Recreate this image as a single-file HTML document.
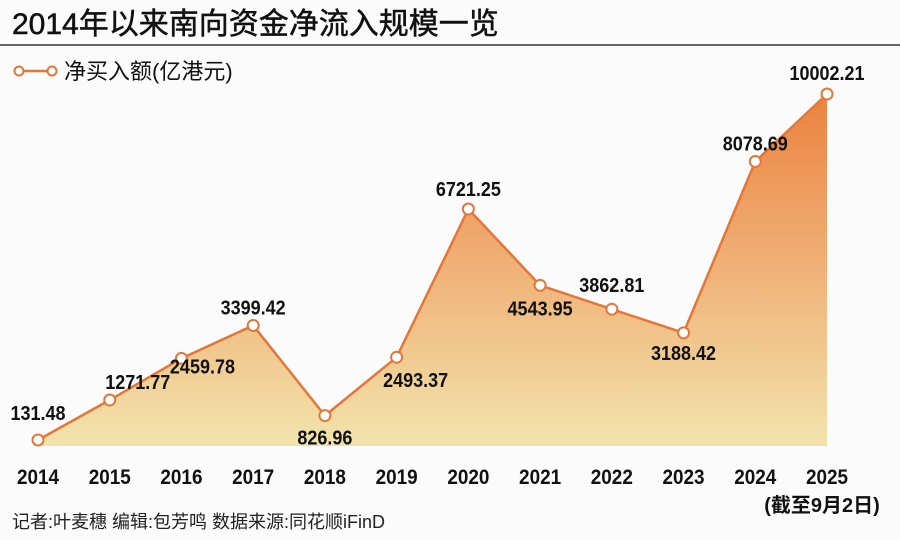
<!DOCTYPE html>
<html><head><meta charset="utf-8"><style>
body{margin:0;background:#fbfbfb;}
svg{display:block;font-family:"Liberation Sans","Noto Sans CJK SC",sans-serif;}
</style></head><body>
<svg width="900" height="540" viewBox="0 0 900 540">
<defs>
<linearGradient id="fillg" x1="0" y1="94" x2="0" y2="446" gradientUnits="userSpaceOnUse">
<stop offset="0" stop-color="#eb8240"/><stop offset="0.5" stop-color="#f0b277"/><stop offset="1" stop-color="#f2e3ad"/>
</linearGradient>
</defs>
<rect width="900" height="540" fill="#fbfbfb"/>
<text x="12" y="34" font-size="30" fill="#111" stroke="#111" stroke-width="0.5">2014年以来南向资金净流入规模一览</text>
<line x1="0" y1="45" x2="900" y2="45" stroke="#333" stroke-width="1.5"/>
<g>
<line x1="19" y1="71" x2="52" y2="71" stroke="#e3773a" stroke-width="2.5"/>
<circle cx="19" cy="71" r="4.5" fill="#fff" stroke="#e3773a" stroke-width="2"/>
<circle cx="52" cy="71" r="4.5" fill="#fff" stroke="#e3773a" stroke-width="2"/>
<text x="64" y="79" font-size="22" fill="#111">净买入额(亿港元)</text>
</g>
<path id="area" fill="url(#fillg)"/>
<polyline id="line" fill="none" stroke="#e3773a" stroke-width="2.5"/>
<g id="marks"></g>
<g id="xaxis"></g>
<text x="12" y="528" font-size="18" fill="#222">记者:叶麦穗 编辑:包芳鸣  数据来源:同花顺iFinD</text>
<text x="822" y="512" font-size="20" font-weight="bold" fill="#111" text-anchor="middle">(截至9月2日)</text>
</svg>
<script>
const categories=["2014","2015","2016","2017","2018","2019","2020","2021","2022","2023","2024","2025"];
const values=[131.48,1271.77,2459.78,3399.42,826.96,2493.37,6721.25,4543.95,3862.81,3188.42,8078.69,10002.21];
const valueLabels=["131.48","1271.77","2459.78","3399.42","826.96","2493.37","6721.25","4543.95","3862.81","3188.42","8078.69","10002.21"];
const lblDx=[0,28,21,0,0,19,0,0,0,0,0,0];
const lblDy=[-27,-18,8,-18,22,23,-20,23,-24,20,-18,-21];
const x=i=>38+i*(827-38)/11;
const y=v=>444.6-v*0.03505;
const ns="http://www.w3.org/2000/svg";
const pts=values.map((v,i)=>[x(i),y(v)]);
document.getElementById('line').setAttribute('points',pts.map(p=>p.join(',')).join(' '));
document.getElementById('area').setAttribute('d','M'+x(0)+',446 '+pts.map(p=>'L'+p.join(',')).join(' ')+' L'+x(values.length-1)+',446 Z');
const marks=document.getElementById('marks'),xa=document.getElementById('xaxis');
values.forEach((v,i)=>{
 const c=document.createElementNS(ns,'circle');
 
 
 c.setAttribute('cx',x(i));c.setAttribute('cy',y(v));c.setAttribute('r',5.5);
 c.setAttribute('fill','#fff');c.setAttribute('stroke','#e3773a');c.setAttribute('stroke-width',2);
 marks.appendChild(c);
 const t=document.createElementNS(ns,'text');
 
 
 t.setAttribute('x',x(i)+lblDx[i]);t.setAttribute('y',y(v)+lblDy[i]+7);
 t.setAttribute('text-anchor','middle');t.setAttribute('font-size','20');t.setAttribute('font-weight','bold');t.setAttribute('fill','#111');
 t.setAttribute('transform','translate('+(x(i)+lblDx[i])+',0) scale(0.9,1) translate('+(-(x(i)+lblDx[i]))+',0)');
 t.textContent=valueLabels[i];marks.appendChild(t);
 const a=document.createElementNS(ns,'text');
 
 
 a.setAttribute('x',x(i));a.setAttribute('y',484);a.setAttribute('text-anchor','middle');
 a.setAttribute('font-size','21');a.setAttribute('font-weight','bold');a.setAttribute('fill','#111');
 a.setAttribute('transform','translate('+x(i)+',0) scale(0.9,1) translate('+(-x(i))+',0)');
 a.textContent=categories[i];xa.appendChild(a);
});
</script>
</body></html>
